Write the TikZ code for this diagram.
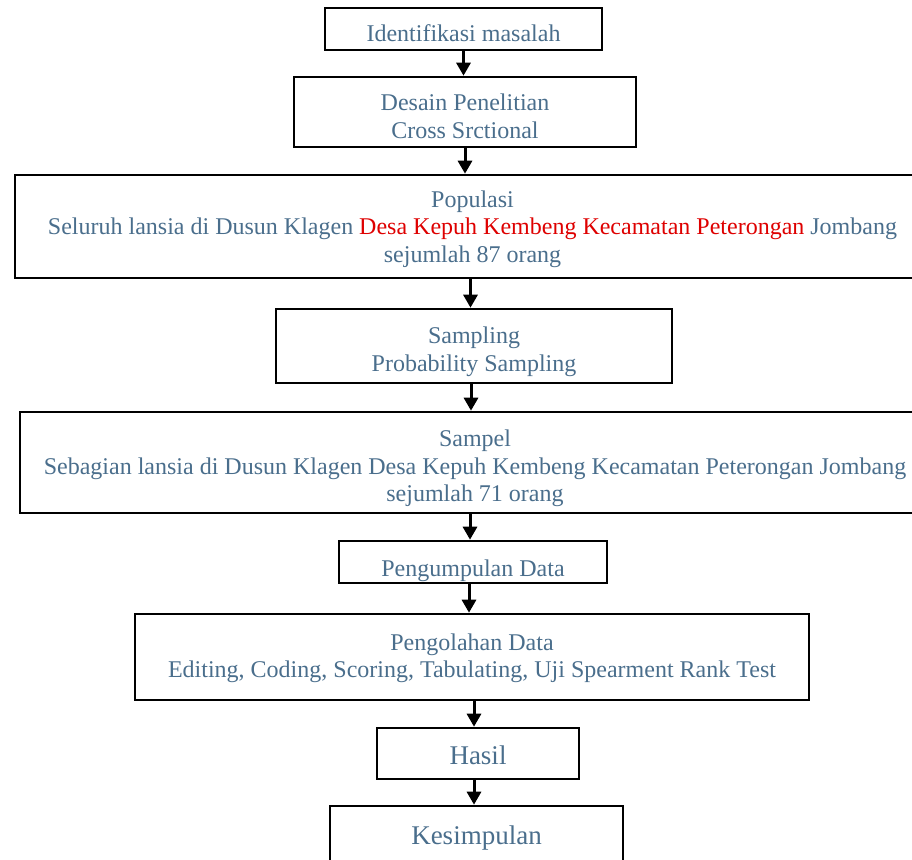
\documentclass[tikz,border=0pt]{standalone}
\usepackage{fontspec}
\setmainfont{Liberation Serif}
\usetikzlibrary{arrows.meta}
\definecolor{txtblue}{RGB}{74,110,140}
\definecolor{txtred}{RGB}{222,0,0}
\tikzset{
  box/.style={draw,line width=2.6pt,align=center,text=txtblue,inner sep=0pt,
    font=\fontsize{24}{27.5}\selectfont},
  bigbox/.style={box,font=\fontsize{27}{31}\selectfont},
  txt/.style={text=txtblue,inner sep=0pt,font=\fontsize{24}{27.5}\selectfont},
  arr/.style={-{Triangle[length=13pt,width=14pt]},line width=3pt},
}
\begin{document}
\begin{tikzpicture}[x=1pt,y=-1pt]
	\useasboundingbox (0,0) rectangle (912,859);
	\clip (0,0) rectangle (912,859);
	% boxes, top to bottom
	\node[box,minimum width=277,minimum height=42,text height=24.5pt,text depth=0pt] (ident) at (463.5,29) {Identifikasi masalah};
	\node[box,minimum width=342,minimum height=70,text height=52pt,text depth=0pt] (desain) at (465,112) {Desain Penelitian\\Cross Srctional};
	\node[box,minimum width=915,minimum height=103,text depth=0pt] (populasi) at (472.5,226.5) {Populasi\\Seluruh lansia di Dusun Klagen \textcolor{txtred}{Desa Kepuh Kembeng Kecamatan Peterongan} Jombang\\sejumlah 87 orang};
	\node[box,minimum width=396,minimum height=74,text height=50pt,text depth=0pt] (sampling) at (474,346) {Sampling\\Probability Sampling};
	\node[box,minimum width=910,minimum height=101,text height=78.5pt,text depth=0pt] (sampel) at (475,462.5) {Sampel\\Sebagian lansia di Dusun Klagen Desa Kepuh Kembeng Kecamatan Peterongan Jombang\\sejumlah 71 orang};
	\node[box,minimum width=268,minimum height=42] (kumpul) at (473,562) {};
	\begin{scope}
		\clip (kumpul.south west) rectangle (kumpul.north east);
		\node[txt,anchor=base] (kumpultxt) at (473,576) {Pengumpulan Data};
	\end{scope}
	\node[box,minimum width=674,minimum height=86,text depth=3pt] (olah) at (472,657) {Pengolahan Data\\Editing, Coding, Scoring, Tabulating, Uji Spearment Rank Test};
	\node[bigbox,minimum width=202,minimum height=51,text height=22.5pt,text depth=0pt] (hasil) at (478,753.5) {Hasil};
	\node[bigbox,minimum width=293,minimum height=58,text depth=0pt] (simpul) at (476.5,835) {Kesimpulan};
	% arrows
	\draw[arr] (ident.south) -- (ident.south |- desain.north);
	\draw[arr] (desain.south) -- (desain.south |- populasi.north);
	\draw[arr] ([xshift=-2pt]populasi.south) -- ([xshift=-2pt]populasi.south |- sampling.north);
	\draw[arr] ([xshift=-3pt]sampling.south) -- ([xshift=-3pt]sampling.south |- sampel.north);
	\draw[arr] ([xshift=-5pt]sampel.south) -- ([xshift=-5pt]sampel.south |- kumpul.north);
	\draw[arr] ([xshift=-4pt]kumpul.south) -- ([xshift=-4pt]kumpul.south |- olah.north);
	\draw[arr] ([xshift=2pt]olah.south) -- ([xshift=2pt]olah.south |- hasil.north);
	\draw[arr] ([xshift=-4pt]hasil.south) -- ([xshift=-4pt]hasil.south |- simpul.north);
\end{tikzpicture}
\end{document}
